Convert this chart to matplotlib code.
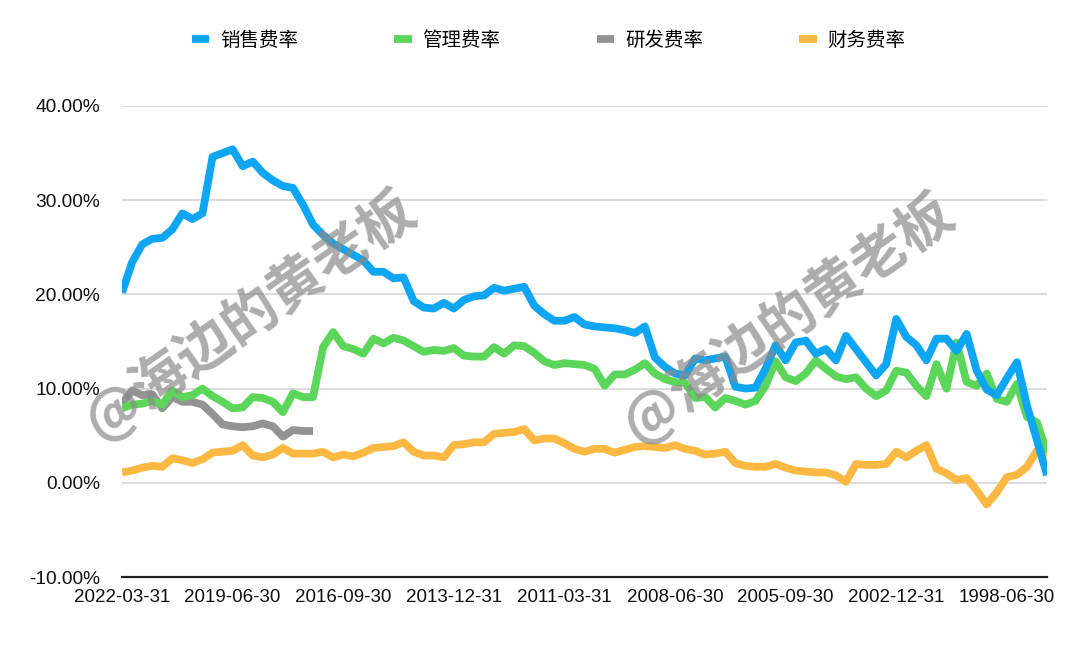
import numpy as np
import matplotlib
matplotlib.use("Agg")
import matplotlib.pyplot as plt

plt.rcParams['font.family'] = ['Liberation Sans', 'Noto Sans CJK SC', 'DejaVu Sans']

# category labels: quarterly from 2022-03-31 back to 2002-12-31, then sparser
quarter_ends = ['03-31', '06-30', '09-30', '12-31']
dates = []
for year in range(2022, 2001, -1):
    for q in range(3, -1, -1):
        d = f'{year}-{quarter_ends[q]}'
        if '2002-12-31' <= d <= '2022-03-31':
            dates.append(d)
dates += ['2002-09-30', '2002-06-30', '2002-03-31', '2001-12-31', '2001-06-30',
          '2000-12-31', '2000-06-30', '1999-12-31', '1999-06-30', '1998-12-31',
          '1998-06-30', '1997-12-31', '1997-06-30', '1996-12-31', '1995-12-31']

sales = [20.2, 23.4, 25.3, 25.9, 26.0, 26.9, 28.6, 28.0, 28.6, 34.6,
         35.0, 35.4, 33.6, 34.1, 32.9, 32.1, 31.5, 31.3, 29.5, 27.4,
         26.3, 25.4, 24.8, 24.2, 23.6, 22.4, 22.4, 21.7, 21.8, 19.3,
         18.6, 18.5, 19.1, 18.5, 19.4, 19.8, 19.9, 20.7, 20.4, 20.6,
         20.8, 18.8, 17.9, 17.2, 17.2, 17.6, 16.8, 16.6, 16.5, 16.4,
         16.2, 15.9, 16.6, 13.3, 12.3, 11.6, 11.4, 13.2, 13.0, 13.2,
         13.4, 10.2, 10.0, 10.1, 12.1, 14.6, 13.0, 14.9, 15.1, 13.7,
         14.2, 13.0, 15.6, 14.2, 12.8, 11.4, 12.6, 17.4, 15.5, 14.6,
         13.0, 15.3, 15.3, 14.0, 15.8, 11.9, 9.9, 9.3, 11.1, 12.8,
         8.2, 4.5, 0.8]

admin = [7.9, 8.3, 8.4, 8.7, 8.3, 9.8, 9.1, 9.3, 10.0, 9.2,
         8.6, 7.9, 8.0, 9.1, 9.0, 8.6, 7.5, 9.5, 9.1, 9.1,
         14.4, 16.0, 14.5, 14.2, 13.7, 15.3, 14.8, 15.4, 15.1, 14.5,
         13.9, 14.1, 14.0, 14.3, 13.5, 13.4, 13.4, 14.4, 13.7, 14.6,
         14.5, 13.8, 12.9, 12.5, 12.7, 12.6, 12.5, 12.1, 10.3, 11.5,
         11.5, 12.0, 12.7, 11.6, 11.0, 10.7, 10.6, 9.0, 9.1, 8.0,
         9.0, 8.7, 8.3, 8.7, 10.3, 12.9, 11.2, 10.8, 11.6, 13.0,
         12.1, 11.3, 11.0, 11.2, 10.0, 9.2, 9.8, 11.9, 11.7, 10.3,
         9.2, 12.6, 10.0, 14.9, 10.7, 10.3, 11.6, 8.9, 8.6, 10.5,
         7.0, 6.4, 3.2]

rnd = [8.4, 9.8, 9.3, 9.4, 7.9, 9.1, 8.6, 8.6, 8.3, 7.3,
       6.2, 6.0, 5.9, 6.0, 6.3, 6.0, 4.9, 5.6, 5.5, 5.5]

finance = [1.1, 1.3, 1.6, 1.8, 1.7, 2.6, 2.4, 2.1, 2.5, 3.2,
           3.3, 3.4, 4.0, 2.9, 2.7, 3.0, 3.7, 3.1, 3.1, 3.1,
           3.3, 2.7, 3.0, 2.8, 3.2, 3.7, 3.8, 3.9, 4.3, 3.3,
           2.9, 2.9, 2.7, 4.0, 4.1, 4.3, 4.3, 5.2, 5.3, 5.4,
           5.7, 4.5, 4.7, 4.7, 4.2, 3.6, 3.3, 3.6, 3.6, 3.2,
           3.5, 3.8, 3.9, 3.8, 3.7, 4.0, 3.6, 3.4, 3.0, 3.1,
           3.3, 2.1, 1.8, 1.7, 1.7, 2.0, 1.6, 1.3, 1.2, 1.1,
           1.1, 0.8, 0.1, 2.0, 1.9, 1.9, 2.0, 3.3, 2.7, 3.4,
           4.0, 1.5, 1.0, 0.3, 0.5, -0.8, -2.3, -1.0, 0.6, 0.85,
           1.7, 3.4, 2.8]

series = [('销售费率', sales, '#0ea5f3'),
          ('管理费率', admin, '#5cd65a'),
          ('研发费率', rnd, '#939393'),
          ('财务费率', finance, '#fbb944')]

fig = plt.figure(figsize=(10.8, 6.45), dpi=100)
ax = fig.add_axes([0.113, 0.1054, 0.8565, 0.7303])

x = np.arange(len(dates))
# first series on top
for k, (name, vals, color) in enumerate(series):
    ax.plot(x[:len(vals)], vals, color=color, lw=5.6, label=name, zorder=10 - k,
            solid_joinstyle='round', solid_capstyle='butt')

ax.set_xlim(0, len(dates) - 1)
ax.set_ylim(-10, 40)
ax.set_yticks([-10, 0, 10, 20, 30, 40])
ax.set_yticklabels([f'{v:.2f}%' for v in [-10, 0, 10, 20, 30, 40]])
ax.yaxis.grid(True, color='#d6d6d6', lw=1.2)
ax.set_axisbelow(True)
ticks = list(range(0, len(dates), 11))
ax.set_xticks(ticks)
ax.set_xticklabels([dates[i] for i in ticks])
ax.tick_params(axis='y', length=0, pad=16, labelsize=13.8, labelcolor='#111111')
ax.tick_params(axis='x', length=0, pad=8.5, labelsize=13.5, labelcolor='#111111')
for s in ['top', 'right', 'left']:
    ax.spines[s].set_visible(False)
ax.spines['bottom'].set_color('#222222')
ax.spines['bottom'].set_linewidth(1.6)
ax.spines['bottom'].set_zorder(12)

fig.legend(loc='center', bbox_to_anchor=(0.508, 1 - 40 / 645), ncol=4, frameon=False,
           handlelength=0.9, handletextpad=0.55, columnspacing=4.95,
           prop={'family': ['Noto Sans CJK SC'], 'size': 14})

# watermarks
for cx, cy in [(250, 315), (788, 318)]:
    fig.text(cx / 1080, 1 - cy / 645, '@海边的黄老板', family=['Noto Sans CJK SC', 'DejaVu Sans'],
             fontsize=40, weight='bold', color='#8a8a8a', alpha=0.7, rotation=35,
             ha='center', va='center', zorder=20)

fig.savefig('out.png', dpi=100)
